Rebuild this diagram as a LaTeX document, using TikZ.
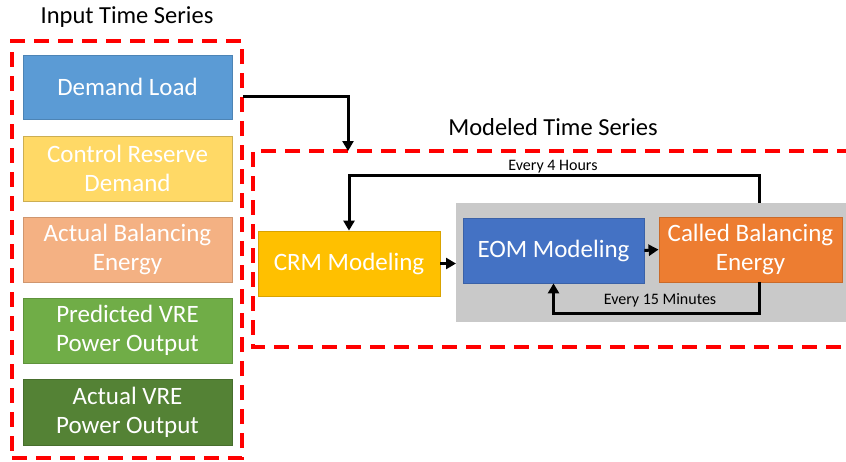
\documentclass[tikz,border=0pt]{standalone}
\usepackage{fontspec}
\setmainfont{Carlito}
\usetikzlibrary{arrows.meta,calc}
\definecolor{cDemand}{HTML}{5B9BD5}
\definecolor{cCtrl}{HTML}{FFD966}
\definecolor{cActBal}{HTML}{F4B183}
\definecolor{cPred}{HTML}{70AD47}
\definecolor{cActVRE}{HTML}{548235}
\definecolor{cCRM}{HTML}{FFC000}
\definecolor{cEOM}{HTML}{4472C4}
\definecolor{cCalled}{HTML}{ED7D31}
\definecolor{cGray}{HTML}{C9C9C9}
\definecolor{cRed}{HTML}{FF0000}
\tikzset{
  box/.style={rectangle, inner sep=0pt, align=center, text=white,
    font=\fontsize{25}{29}\selectfont, line width=0.8pt},
  inbox/.style={box, minimum width=209pt, minimum height=65pt},
  modbox/.style={box, minimum width=182pt, minimum height=65pt},
  reddash/.style={draw=cRed, line width=4pt, dash pattern=on 15pt off 9pt},
  arr/.style={draw=black, line width=3pt, -{Triangle[length=10pt,width=11pt]}},
  title/.style={font=\fontsize{24.5}{28}\selectfont, text=black},
  small/.style={font=\fontsize{16}{19}\selectfont, text=black}
}
\begin{document}
\begin{tikzpicture}[x=1pt,y=-1pt]
\useasboundingbox (0,0) rectangle (846,461);
\clip (0,0) rectangle (846,461);

% titles
\node[title] (intitle) at (127,17) {Input Time Series};
\node[title] (modtitle) at (553,127) {Modeled Time Series};

% input boxes
\node[inbox, fill=cDemand, draw=cDemand!85!black, minimum height=64pt] (demand) at (127.5,87) {Demand Load};
\node[inbox, fill=cCtrl, draw=cCtrl!80!black] (ctrl) at (127.5,168.5) {Control Reserve\\Demand};
\node[inbox, fill=cActBal, draw=cActBal!85!black] (actbal) at (127.5,249.5) {Actual Balancing\\Energy};
\node[inbox, fill=cPred, draw=cPred!85!black] (pred) at (127.5,330.5) {Predicted VRE\\Power Output};
\node[inbox, fill=cActVRE, draw=cActVRE!85!black, minimum height=66pt] (actvre) at (127.5,412) {Actual VRE\\Power Output};

% input dashed frame
\node[reddash, rectangle, minimum width=230pt, minimum height=417pt, inner sep=0pt] (inframe) at (127,249.5) {};

% modeled dashed frame (open to the right)
\coordinate (mtr) at (900,151);
\coordinate (mtl) at (253,151);
\coordinate (mbl) at (253,347);
\coordinate (mbr) at (900,347);
\draw[reddash] (mtr) -- (mtl) -- (mbl) -- (mbr);

% gray group
\node[rectangle, fill=cGray, inner sep=0pt, minimum width=420pt, minimum height=119pt, anchor=north west] (grp) at (456,203) {};

% modeled boxes
\node[modbox, fill=cCRM, draw=cCRM!85!black] (crm) at (349,263.5) {CRM Modeling};
\node[modbox, fill=cEOM, draw=cEOM!85!black, minimum width=181pt] (eom) at (553.5,250.5) {EOM Modeling};
\node[modbox, fill=cCalled, draw=cCalled!85!black, minimum width=183pt] (called) at (750.5,249.5) {Called Balancing\\Energy};

% labels
\node[small] (l4h) at (553,167) {Every 4 Hours};
\node[small] (l15) at (660,300) {Every 15 Minutes};

% connectors
\coordinate (dstart) at (243,96);
\coordinate (dturn) at (348,96);
\draw[arr] (dstart) -- (dturn) -- (dturn |- mtl);
\draw[arr] (crm.east) -- (crm.east -| grp.west);
\draw[arr] (eom.east) -- (called.west);
\coordinate (c4) at (759,203);
\draw[arr] (c4) -- (759,175) -| (crm.north);
\coordinate (c15) at (759,282);
\draw[arr] (c15) -- (759,313) -| (eom.south);
\end{tikzpicture}
\end{document}
